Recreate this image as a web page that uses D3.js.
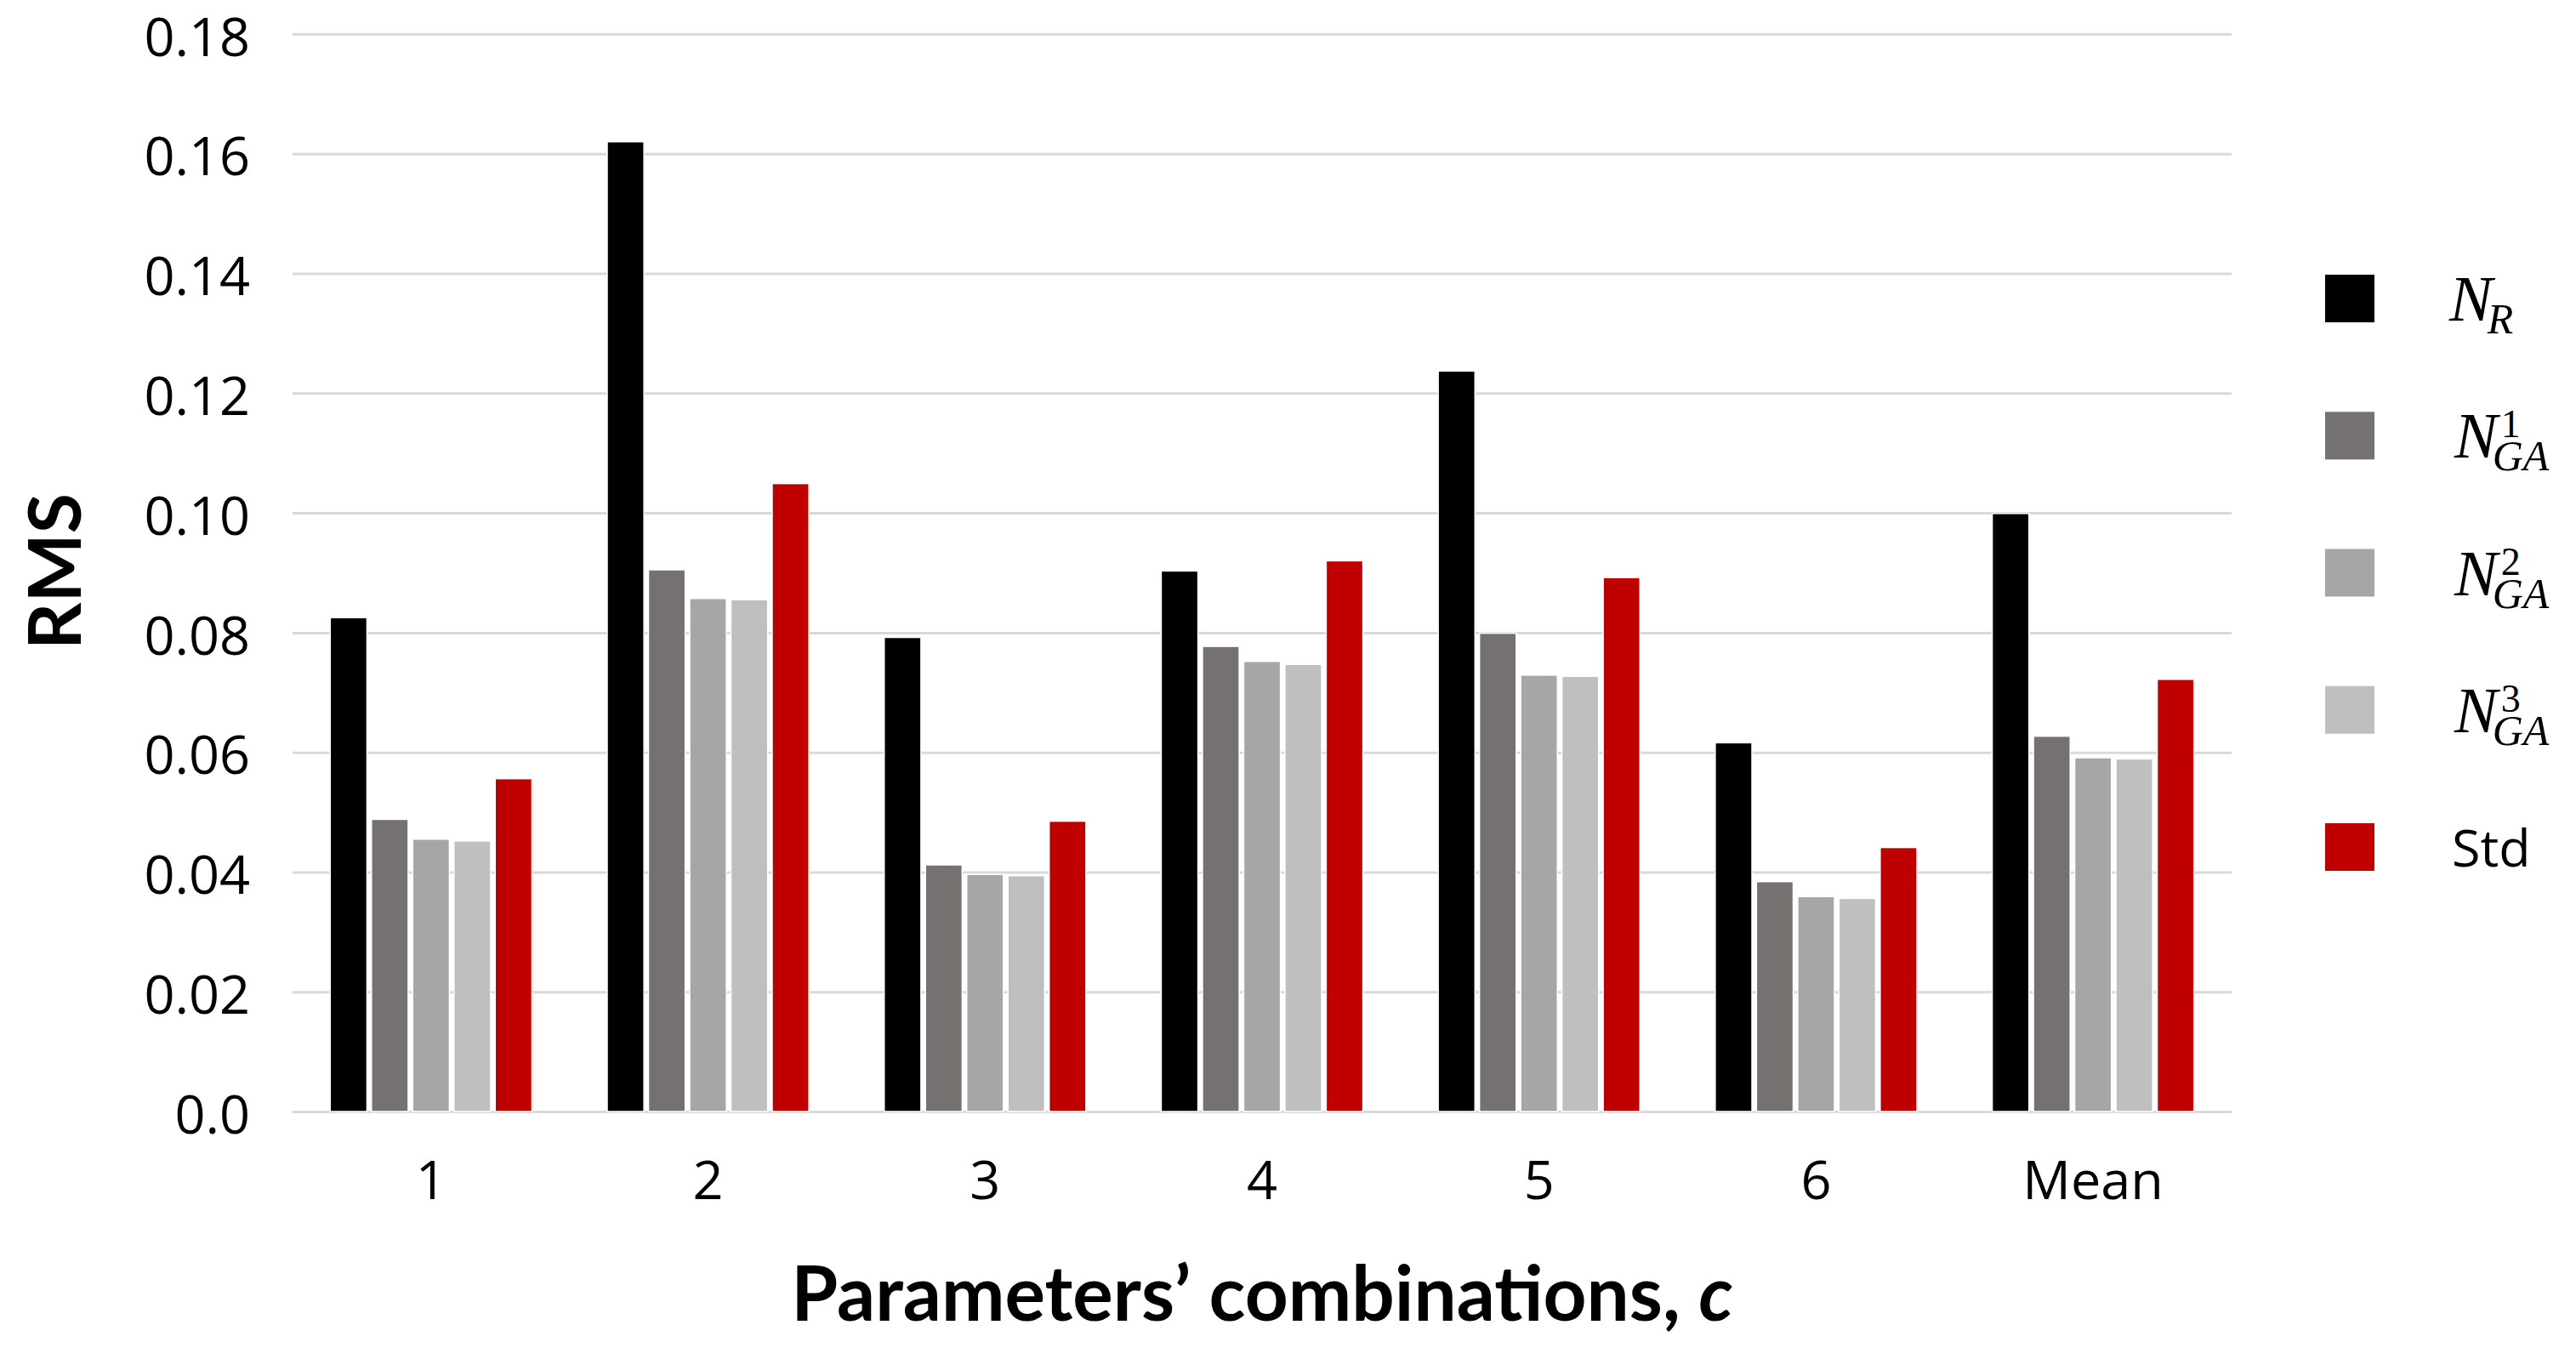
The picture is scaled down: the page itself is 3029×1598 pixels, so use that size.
<!DOCTYPE html>
<html>
<head>
<meta charset="utf-8">
<script src="https://cdn.jsdelivr.net/npm/d3@7/dist/d3.min.js"></script>
<style>
  html, body { margin: 0; padding: 0; background: #ffffff; }
  svg { display: block; }
</style>
</head>
<body>
<svg id="chart" width="3029" height="1598"></svg>
<script>
// ---- data ----
const categories = ["1", "2", "3", "4", "5", "6", "Mean"];
const seriesNames = ["NR", "NGA1", "NGA2", "NGA3", "Std"];
const NR   = [0.0825, 0.1620, 0.0792, 0.0903, 0.1237, 0.0616, 0.0999];
const NGA1 = [0.0488, 0.0905, 0.0412, 0.0777, 0.0799, 0.0384, 0.0627];
const NGA2 = [0.0455, 0.0857, 0.0396, 0.0752, 0.0729, 0.0359, 0.0591];
const NGA3 = [0.0452, 0.0855, 0.0394, 0.0747, 0.0727, 0.0356, 0.0589];
const Std  = [0.0556, 0.1049, 0.0485, 0.0920, 0.0892, 0.0441, 0.0722];
const yTickValues = [0, 0.02, 0.04, 0.06, 0.08, 0.10, 0.12, 0.14, 0.16, 0.18];
const yTickLabels = ["0.0", "0.02", "0.04", "0.06", "0.08", "0.10", "0.12", "0.14", "0.16", "0.18"];
const seriesColors = ["#000000", "#767171", "#A6A6A6", "#BFBFBF", "#C00000"];
const legendLabels = [
  {main: "N", sub: "R", sup: ""},
  {main: "N", sub: "GA", sup: "1"},
  {main: "N", sub: "GA", sup: "2"},
  {main: "N", sub: "GA", sup: "3"},
  {plain: "Std"}
];
const xTitle = "Parameters\u2019 combinations, ";
const xTitleVar = "c";
const yTitle = "RMS";

const seriesValues = [NR, NGA1, NGA2, NGA3, Std];
const table = categories.map((c, i) => ({
  cat: c,
  vals: seriesNames.map((s, j) => ({key: s, value: seriesValues[j][i], color: seriesColors[j]}))
}));

// ---- layout ----
const svg = d3.select("#chart");
const plot = {left: 344, right: 2624, top: 40, bottom: 1307};

const x0 = d3.scaleBand().domain(categories)
  .range([plot.left, plot.right]).paddingInner(0.272).paddingOuter(0.136);
const x1 = d3.scaleBand().domain(seriesNames)
  .range([0, x0.bandwidth()]).paddingInner(0.11).paddingOuter(0);
const y = d3.scaleLinear().domain([0, 0.18]).range([plot.bottom, plot.top]);

const tickFont = "'Open Sans', sans-serif";

// y axis with gridlines
const yAxis = d3.axisLeft(y).tickValues(yTickValues)
  .tickFormat((d, i) => yTickLabels[i])
  .tickSize(-(plot.right - plot.left)).tickPadding(50);
const gy = svg.append("g").attr("transform", `translate(${plot.left},0)`).call(yAxis);
gy.select(".domain").remove();
gy.selectAll(".tick line").attr("stroke", "#D9D9D9").attr("stroke-width", 3);
gy.selectAll(".tick text").attr("font-family", tickFont).attr("font-size", 63)
  .attr("fill", "#000").attr("dy", "0.40em");

// bars
const groups = svg.append("g").selectAll("g").data(table).join("g")
  .attr("transform", d => `translate(${x0(d.cat)},0)`);
groups.selectAll("rect").data(d => d.vals).join("rect")
  .attr("x", d => x1(d.key))
  .attr("width", x1.bandwidth())
  .attr("y", d => y(d.value))
  .attr("height", d => y(0) - y(d.value))
  .attr("fill", d => d.color)
  .attr("stroke", "#ffffff").attr("stroke-width", 1.5);

// x axis
const xAxis = d3.axisBottom(x0).tickSize(0).tickPadding(58);
const gx = svg.append("g").attr("transform", `translate(0,${plot.bottom})`).call(xAxis);
gx.select(".domain").remove();
gx.selectAll(".tick text").attr("font-family", tickFont).attr("font-size", 63).attr("fill", "#000");

// axis titles
const xt = svg.append("text")
  .attr("x", (plot.left + plot.right) / 2).attr("y", 1553)
  .attr("text-anchor", "middle")
  .attr("font-family", "Lato, sans-serif").attr("font-weight", "bold")
  .attr("font-size", 89).attr("fill", "#000");
xt.append("tspan").text(xTitle);
xt.append("tspan").attr("font-style", "italic").text(xTitleVar);

svg.append("text")
  .attr("transform", "translate(95,672) rotate(-90)")
  .attr("text-anchor", "middle")
  .attr("font-family", "Lato, sans-serif").attr("font-weight", "bold")
  .attr("font-size", 86).attr("fill", "#000").text(yTitle);

// legend
const legendY = d3.scalePoint().domain(seriesNames).range([351, 996]);
const lg = svg.append("g");
seriesNames.forEach((s, i) => {
  const cy = legendY(s);
  lg.append("rect").attr("x", 2734).attr("y", cy - 28).attr("width", 58).attr("height", 56)
    .attr("fill", seriesColors[i]);
  const lab = legendLabels[i];
  if (lab.plain) {
    lg.append("text").attr("x", 2883).attr("y", cy + 23)
      .attr("font-family", tickFont).attr("font-size", 61).attr("fill", "#000").text(lab.plain);
  } else {
    const base = cy + 26;
    const x = lab.sup ? 2886 : 2880;
    const t = lg.append("text").attr("x", x).attr("y", base)
      .attr("font-family", "'Liberation Serif', serif").attr("font-style", "italic")
      .attr("fill", "#000");
    const n = t.append("tspan").attr("font-size", 76).text(lab.main);
    const w = n.node().getComputedTextLength();
    const sx = x + w - 6;
    t.append("tspan").attr("x", sx).attr("y", base + 15).attr("font-size", 50).text(lab.sub);
    if (lab.sup) {
      t.append("tspan").attr("x", sx + 10).attr("y", base - 24)
        .attr("font-style", "normal").attr("font-size", 46).text(lab.sup);
    }
  }
});
</script>
</body>
</html>
